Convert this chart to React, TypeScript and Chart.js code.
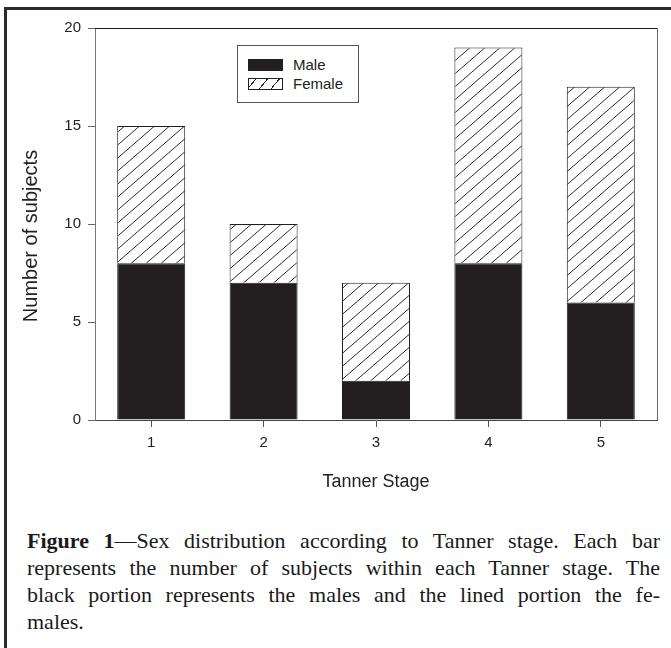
import React, { useEffect, useRef } from "react";
import { Chart, registerables } from "chart.js";

Chart.register(...registerables);

const stages = ["1", "2", "3", "4", "5"];
const maleCounts = [8, 7, 2, 8, 6];
const femaleCounts = [7, 3, 5, 11, 11];
const yTicks = [0, 5, 10, 15, 20];
const seriesNames = ["Male", "Female"];
const xTitle = "Tanner Stage";
const yTitle = "Number of subjects";
const captionBold = "Figure 1";
const captionLines = [
  "—Sex distribution according to Tanner stage. Each bar",
  "represents the number of subjects within each Tanner stage. The",
  "black portion represents the males and the lined portion the fe-",
  "males.",
];

const SANS = "'Liberation Sans', Arial, sans-serif";
const SERIF = "'Liberation Serif', 'Times New Roman', serif";
const INK = "#231f20";

function makeHatch(ctxForPattern: CanvasRenderingContext2D) {
  const w = 15;
  const h = 13;
  const c = document.createElement("canvas");
  c.width = w;
  c.height = h;
  const g = c.getContext("2d")!;
  g.fillStyle = "#ffffff";
  g.fillRect(0, 0, w, h);
  g.strokeStyle = "#2a2a2a";
  g.lineWidth = 1;
  g.beginPath();
  g.moveTo(-w, 2 * h);
  g.lineTo(2 * w, -h);
  g.moveTo(-2 * w, 2 * h);
  g.lineTo(w, -h);
  g.moveTo(0, 2 * h);
  g.lineTo(3 * w, -h);
  g.stroke();
  return ctxForPattern.createPattern(c, "repeat")!;
}

const framePlugin = {
  id: "frameLines",
  afterDatasetsDraw(chart: any) {
    const { ctx, chartArea } = chart;
    const { left, right, top, bottom } = chartArea;
    ctx.save();
    ctx.lineWidth = 1;
    ctx.strokeStyle = "#1e1e1e";
    ctx.beginPath();
    ctx.moveTo(left, Math.round(top) + 0.5);
    ctx.lineTo(right, Math.round(top) + 0.5);
    ctx.stroke();
    ctx.strokeStyle = "#6a6a6a";
    ctx.beginPath();
    ctx.moveTo(Math.round(right) + 0.5, top);
    ctx.lineTo(Math.round(right) + 0.5, bottom);
    ctx.stroke();
    ctx.restore();
  },
};

const yTitlePlugin = {
  id: "yTitleText",
  afterDraw(chart: any) {
    const { ctx, chartArea } = chart;
    const cy = (chartArea.top + chartArea.bottom) / 2 + 12;
    ctx.save();
    ctx.translate(37, cy);
    ctx.rotate(-Math.PI / 2);
    ctx.font = `20px ${SANS}`;
    ctx.fillStyle = "#222222";
    ctx.textAlign = "center";
    ctx.textBaseline = "alphabetic";
    ctx.fillText(yTitle, 0, 0);
    ctx.restore();
  },
};

function HatchSwatch() {
  return (
    <div
      style={{
        width: 35,
        height: 12,
        boxSizing: "border-box",
        border: `1px solid ${INK}`,
        background:
          "repeating-linear-gradient(-50deg, #ffffff 0px, #ffffff 8px, #2a2a2a 8px, #2a2a2a 9px)",
      }}
    />
  );
}

export default function App() {
  const ref = useRef<HTMLCanvasElement>(null);

  useEffect(() => {
    const canvas = ref.current!;
    const ctx = canvas.getContext("2d")!;
    const hatch = makeHatch(ctx);
    const chart = new Chart(canvas, {
      type: "bar",
      data: {
        labels: stages,
        datasets: [
          {
            label: seriesNames[0],
            data: maleCounts,
            backgroundColor: INK,
            borderColor: INK,
            borderWidth: 1,
            barPercentage: 0.605,
            categoryPercentage: 1,
          },
          {
            label: seriesNames[1],
            data: femaleCounts,
            backgroundColor: hatch as any,
            borderColor: INK,
            borderWidth: 1,
            barPercentage: 0.605,
            categoryPercentage: 1,
          },
        ],
      },
      options: {
        responsive: false,
        maintainAspectRatio: false,
        animation: false,
        devicePixelRatio: 1,
        layout: { padding: { top: 28, right: 14, left: 0, bottom: 7 } },
        plugins: {
          legend: { display: false },
          tooltip: { enabled: false },
        },
        scales: {
          x: {
            stacked: true,
            offset: true,
            grid: {
              display: true,
              drawOnChartArea: false,
              offset: false,
              tickLength: 7,
              tickColor: "#555555",
              lineWidth: 1,
            },
            border: { display: true, color: "#444444", width: 1 },
            ticks: {
              color: "#222222",
              font: { family: SANS, size: 15 },
              padding: 7,
              maxRotation: 0,
            },
            title: {
              display: true,
              text: xTitle,
              color: "#222222",
              font: { family: SANS, size: 18 },
              padding: 0,
            },
            afterFit: (s: any) => {
              s.height = 73;
            },
          },
          y: {
            stacked: true,
            min: 0,
            max: 20,
            afterBuildTicks: (s: any) => {
              s.ticks = yTicks.map((v) => ({ value: v }));
            },
            grid: {
              display: true,
              drawOnChartArea: false,
              tickLength: 7,
              tickColor: "#666666",
              lineWidth: 1,
            },
            border: { display: true, color: "#777777", width: 1 },
            ticks: {
              color: "#222222",
              font: { family: SANS, size: 15 },
              padding: 7,
            },
            title: { display: false },
            afterFit: (s: any) => {
              s.width = 95;
            },
          },
        },
      },
      plugins: [framePlugin, yTitlePlugin],
    });
    return () => chart.destroy();
  }, []);

  return (
    <div
      style={{
        position: "absolute",
        left: 0,
        top: 0,
        width: 671,
        height: 648,
        overflow: "hidden",
        background: "#ffffff",
      }}
    >
      <div
        style={{
          position: "absolute",
          left: 4,
          top: 7,
          width: 667,
          height: 641,
          boxSizing: "border-box",
          borderTop: "3px solid #2b2b2b",
          borderLeft: "3px solid #2b2b2b",
        }}
      />
      <canvas
        ref={ref}
        width={671}
        height={500}
        style={{ position: "absolute", left: 0, top: 0, width: 671, height: 500 }}
      />
      <div
        style={{
          position: "absolute",
          left: 237,
          top: 45,
          width: 122,
          height: 58,
          boxSizing: "border-box",
          border: "1px solid #555555",
          background: "#ffffff",
          fontFamily: SANS,
          fontSize: 15,
          color: "#222222",
        }}
      >
        <div style={{ position: "absolute", left: 10, top: 13, display: "flex", alignItems: "center" }}>
          <div style={{ width: 35, height: 12, background: INK }} />
          <span style={{ marginLeft: 10, lineHeight: "12px" }}>{seriesNames[0]}</span>
        </div>
        <div style={{ position: "absolute", left: 10, top: 32, display: "flex", alignItems: "center" }}>
          <HatchSwatch />
          <span style={{ marginLeft: 10, lineHeight: "12px" }}>{seriesNames[1]}</span>
        </div>
      </div>
      <div
        style={{
          position: "absolute",
          left: 27,
          top: 527,
          width: 633,
          fontFamily: SERIF,
          fontSize: 22,
          lineHeight: "27px",
          color: "#1a1a1a",
        }}
      >
        {captionLines.map((line, i) => (
          <div
            key={i}
            style={{
              textAlign: "justify",
              textAlignLast: i < captionLines.length - 1 ? "justify" : "left",
            }}
          >
            {i === 0 ? <b>{captionBold}</b> : null}
            {line}
          </div>
        ))}
      </div>
    </div>
  );
}
